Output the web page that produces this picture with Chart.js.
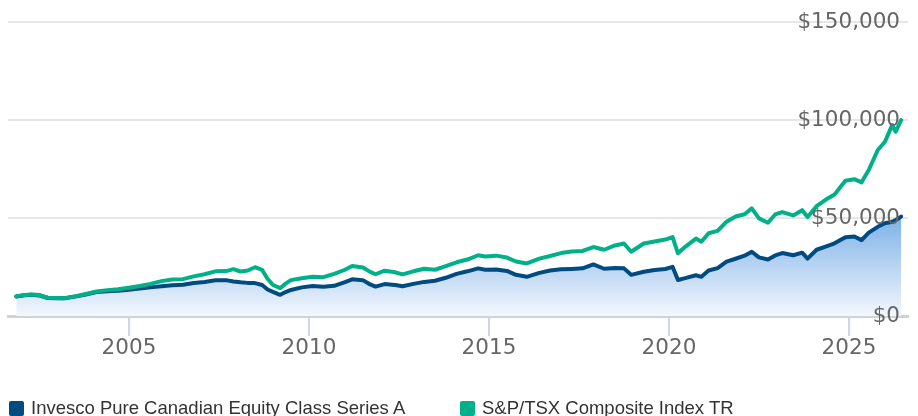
<!DOCTYPE html>
<html>
<head>
<meta charset="utf-8">
<script src="https://cdn.jsdelivr.net/npm/chart.js@4/dist/chart.umd.min.js"></script>
<style>
  html, body { margin: 0; padding: 0; background: #fff; }
  #wrap { position: relative; width: 918px; height: 416px; }
  #legend { position: absolute; left: 0; top: 397px; width: 918px; height: 19px;
    font-family: "Liberation Sans", Arial, sans-serif; font-size: 18.5px; color: #333; }
  .item { position: absolute; top: 0; display: flex; align-items: center; white-space: nowrap; }
  .item:nth-child(1) { left: 9px; }
  .item:nth-child(2) { left: 460px; }
  .box { width: 15px; height: 15px; border-radius: 2px; margin-right: 7px; }
</style>
</head>
<body>
<div id="wrap">
  <canvas id="growthChart" width="918" height="416"></canvas>
  <div id="legend"></div>
</div>
<script>
const years = [
  2001.87, 2002.1, 2002.3, 2002.5, 2002.75, 2003.0, 2003.2, 2003.5, 2003.8, 2004.1,
  2004.4, 2004.7, 2005.0, 2005.3, 2005.6, 2005.9, 2006.2, 2006.5, 2006.8, 2007.1,
  2007.4, 2007.7, 2007.9, 2008.1, 2008.3, 2008.5, 2008.7, 2008.85, 2009.0, 2009.2,
  2009.35, 2009.5, 2009.8, 2010.1, 2010.4, 2010.7, 2011.0, 2011.2, 2011.5, 2011.7,
  2011.85, 2012.1, 2012.4, 2012.6, 2012.9, 2013.2, 2013.5, 2013.8, 2014.1, 2014.4,
  2014.7, 2014.9, 2015.2, 2015.5, 2015.75, 2016.05, 2016.4, 2016.7, 2017.0, 2017.3,
  2017.6, 2017.9, 2018.2, 2018.5, 2018.75, 2018.95, 2019.3, 2019.6, 2019.9, 2020.1,
  2020.25, 2020.45, 2020.75, 2020.9, 2021.1, 2021.35, 2021.6, 2021.85, 2022.1, 2022.3,
  2022.5, 2022.75, 2022.95, 2023.15, 2023.45, 2023.7, 2023.85, 2024.1, 2024.35, 2024.6,
  2024.9, 2025.15, 2025.35, 2025.55, 2025.8, 2026.0, 2026.2, 2026.3, 2026.45
];

// Invesco Pure Canadian Equity Class Series A
const fundValues = [
  10000, 10600, 10800, 10500, 9200, 9100, 9000, 9900, 11000, 12200,
  12600, 12900, 13400, 14000, 14600, 15200, 15700, 15900, 16800, 17400,
  18200, 18300, 17600, 17200, 16900, 16800, 15800, 13500, 12300, 10800,
  12200, 13300, 14600, 15300, 14900, 15400, 17300, 18700, 18300, 16100,
  15000, 16300, 15800, 15200, 16400, 17400, 18000, 19500, 21500, 22800,
  24300, 23600, 23700, 23000, 21000, 20000, 22000, 23200, 23800, 24000,
  24300, 26300, 24100, 24500, 24300, 21000, 22600, 23500, 24000, 25100,
  18400, 19300, 20800, 20000, 23200, 24400, 27700, 29200, 30800, 32800,
  29900, 28800, 30900, 32100, 31000, 32300, 29300, 33800, 35400, 37100,
  40200, 40600, 38700, 42500, 45500, 47300, 48100, 49000, 50700
];

// S&P/TSX Composite Index TR
const indexValues = [
  10000, 10700, 11000, 10700, 9300, 9200, 9100, 10000, 11200, 12500,
  13200, 13600, 14400, 15300, 16400, 17800, 18600, 18800, 20200, 21300,
  22800, 22900, 23900, 22700, 23200, 24900, 23500, 19000, 15800, 14200,
  16500, 18300, 19300, 20000, 19800, 21500, 23600, 25500, 24700, 22500,
  21300, 23100, 22300, 21200, 22800, 24100, 23600, 25400, 27400, 28800,
  31000, 30400, 30800, 29800, 27800, 26800, 29300, 30600, 32100, 32900,
  33200, 35200, 33800, 36000, 37000, 32800, 37000, 38000, 39000, 40300,
  32000, 35300, 39500, 37900, 42200, 43400, 48100, 50800, 51900, 54900,
  49800, 47600, 51800, 53000, 51300, 54000, 50500, 56000, 59300, 62000,
  69000, 69800, 68200, 74500, 84700, 88900, 97400, 94000, 100000
];

const seriesNames = ['Invesco Pure Canadian Equity Class Series A', 'S&P/TSX Composite Index TR'];
const seriesColors = ['#004b80', '#00b088'];
const xTickYears = [2005, 2010, 2015, 2020, 2025];
const yTickValues = [0, 50000, 100000, 150000];

const toPoints = vals => vals.map((v, i) => ({ x: years[i], y: v }));
const fundMax = Math.max(...fundValues);

function fundFill(context) {
  const chart = context.chart;
  const area = chart.chartArea;
  if (!area) return 'rgba(127,178,232,0.5)';
  const top = chart.scales.y.getPixelForValue(fundMax);
  const g = chart.ctx.createLinearGradient(0, top, 0, area.bottom);
  g.addColorStop(0, '#7db1e8');
  g.addColorStop(1, '#f3f7fd');
  return g;
}

const chart = new Chart(document.getElementById('growthChart'), {
  type: 'line',
  data: {
    datasets: [{
      label: seriesNames[0],
      data: toPoints(fundValues),
      borderColor: seriesColors[0],
      backgroundColor: fundFill,
      fill: 'origin',
      borderWidth: 4,
      order: 1
    }, {
      label: seriesNames[1],
      data: toPoints(indexValues),
      borderColor: seriesColors[1],
      fill: false,
      borderWidth: 4,
      order: 0
    }]
  },
  options: {
    responsive: false,
    animation: false,
    parsing: false,
    elements: {
      point: { radius: 0 },
      line: { tension: 0, borderJoinStyle: 'round', borderCapStyle: 'round' }
    },
    layout: { padding: { left: 8, right: 10, top: 22, bottom: 0 } },
    plugins: {
      legend: { display: false },
      tooltip: { enabled: false }
    },
    scales: {
      x: {
        type: 'linear',
        min: 2001.64,
        max: 2026.64,
        afterBuildTicks: scale => { scale.ticks = xTickYears.map(v => ({ value: v })); },
        afterFit: scale => { scale.height = 100; },
        grid: { drawOnChartArea: false, drawTicks: true, tickLength: 20, color: '#ccd6eb', lineWidth: 2 },
        border: { display: true, color: '#cdd2dd', width: 3 },
        ticks: {
          padding: 0,
          color: '#666',
          font: { family: '"DejaVu Sans"', size: 21.5 },
          callback: v => String(v),
          maxRotation: 0
        }
      },
      y: {
        position: 'right',
        min: 0,
        max: 150000,
        afterBuildTicks: scale => { scale.ticks = yTickValues.map(v => ({ value: v })); },
        afterFit: scale => { scale.width = 0; },
        grid: { color: '#e6e6e6', lineWidth: 2, drawTicks: false },
        border: { display: false },
        ticks: {
          mirror: true,
          z: 1,
          padding: -8,
          color: '#666',
          font: { family: '"DejaVu Sans"', size: 21.5 },
          callback: v => '$' + v.toLocaleString('en-US')
        }
      }
    }
  }
});

// html legend built from the chart's datasets
const legendEl = document.getElementById('legend');
chart.data.datasets.forEach(ds => {
  const item = document.createElement('div');
  item.className = 'item';
  const box = document.createElement('span');
  box.className = 'box';
  box.style.background = ds.borderColor;
  const label = document.createElement('span');
  label.textContent = ds.label;
  item.appendChild(box);
  item.appendChild(label);
  legendEl.appendChild(item);
});
</script>
</body>
</html>
